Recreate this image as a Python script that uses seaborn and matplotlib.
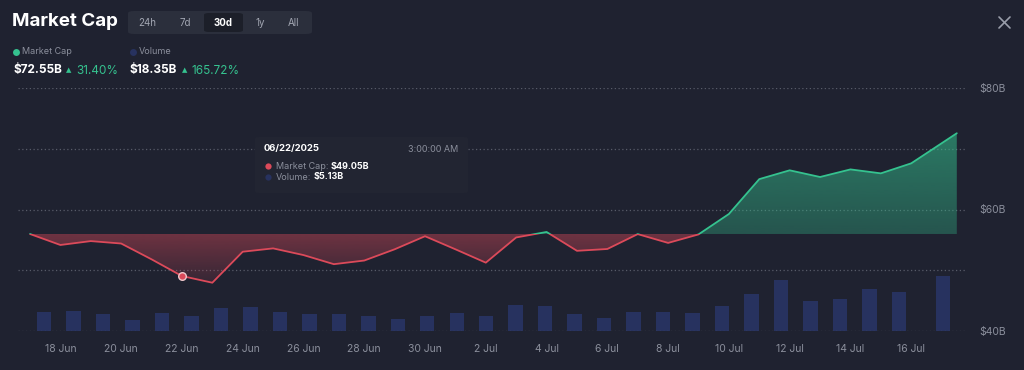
import matplotlib
matplotlib.use("Agg")
import matplotlib.pyplot as plt
import matplotlib.dates as mdates
import numpy as np
import pandas as pd
import seaborn as sns
from matplotlib.patches import FancyBboxPatch, Rectangle
from matplotlib.path import Path
from matplotlib.lines import Line2D

# data (billions USD)
daily_dates = pd.date_range("2025-06-17", "2025-07-16", freq="D")
dates = list(daily_dates) + [pd.Timestamp("2025-07-17 12:00")]
market_cap = [55.97, 54.16, 54.8, 54.4, 51.8, 49.05, 47.95, 53.05, 53.6, 52.5,
              51.0, 51.6, 53.45, 55.6, 53.45, 51.25, 55.4, 56.3, 53.2, 53.5,
              55.95, 54.5, 55.9, 59.26, 65.0, 66.45, 65.35, 66.6, 65.95, 67.6,
              72.55]
volume = [6.4, 6.8, 5.6, 3.8, 5.9, 5.13, 7.7, 8.1, 6.3, 5.7, 5.7, 5.0, 4.0, 5.0,
          6.0, 5.0, 8.7, 8.3, 5.7, 4.2, 6.4, 6.3, 6.1, 8.4, 12.3, 17.0, 9.9,
          10.6, 14.0, 13.0, 18.35]
tick_dates = pd.date_range("2025-06-18", "2025-07-16", freq="2D")
y_ticks = [40, 50, 60, 70, 80]
y_labels = ["$40B", "", "$60B", "", "$80B"]
periods = ["24h", "7d", "30d", "1y", "All"]
hover_idx = 5

BG = "#1f2230"
GREEN = "#35c28f"
RED = "#dc4a5a"
VOL = "#27325f"
GRID = "#575b68"
MUTED = "#8b8f9c"

sns.set_theme(style="dark", rc={"axes.facecolor": BG, "figure.facecolor": BG})
plt.rcParams["font.family"] = ["Inter", "DejaVu Sans"]

fig = plt.figure(figsize=(10.24, 3.7), dpi=100)


def fx(px):
    return px / 1024


def fy(py):
    return 1 - py / 370


def dot(px, py, color, size=5):
    fig.lines.append(Line2D([fx(px)], [fy(py)], marker="o", ms=size, color=color,
                            mec="none", transform=fig.transFigure, zorder=6))


rect = [fx(18), fy(331), fx(965) - fx(18), fy(88) - fy(331)]
t = mdates.date2num(dates)
t0 = t[0]
mc = np.array(market_cap)
base = market_cap[0]

# volume bars on their own inset axis
bax = fig.add_axes(rect)
sns.barplot(x=t, y=volume, native_scale=True, width=0.49, color=VOL,
            saturation=1, edgecolor="none", linewidth=0, ax=bax, zorder=1)
bax.set_xlim(t0 - 0.882, t0 + 31.24)
bax.set_ylim(0, 81)
bax.axis("off")

ax = fig.add_axes(rect)
ax.set_facecolor("none")
ax.set_xlim(t0 - 0.395, t0 + 30.77)
ax.set_ylim(40, 80)

# dotted grid
for v in y_ticks:
    ax.axhline(v, color=GRID, lw=0.9, ls=(0, (1, 2)), zorder=1)


def gradient_fill(mask, color, a_top, a_bot, lo, hi):
    coll = ax.fill_between(t, mc, base, where=mask, interpolate=True,
                           color="none", lw=0)
    path = Path.make_compound_path(*coll.get_paths())
    rgba = np.zeros((256, 1, 4))
    rgba[..., :3] = matplotlib.colors.to_rgb(color)
    rgba[..., 3] = np.linspace(a_bot, a_top, 256).reshape(-1, 1)
    im = ax.imshow(rgba, extent=[t[0], t[-1], lo, hi], origin="lower",
                   aspect="auto", zorder=2)
    im.set_clip_path(path, transform=ax.transData)


gradient_fill(mc >= base, GREEN, 0.55, 0.32, base, mc.max())
gradient_fill(mc <= base, RED, 0.42, 0.12, mc.min(), base)

# line, coloured above/below start value
for col, y0, y1 in [(GREEN, base, 100), (RED, 0, base)]:
    sns.lineplot(x=t, y=market_cap, color=col, lw=1.3, ax=ax, zorder=4)
    clip = Rectangle((t0 - 5, y0), 50, y1 - y0, transform=ax.transData)
    ax.lines[-1].set_clip_path(clip)

# hover marker
ax.scatter([t[hover_idx]], [market_cap[hover_idx]], s=30, color=RED,
           edgecolor="#f0c9cd", linewidth=1.0, zorder=6)

ax.set_xticks(mdates.date2num(tick_dates))
ax.set_xticklabels([d.strftime("%-d %b") for d in tick_dates])
ax.set_yticks(y_ticks)
ax.set_yticklabels(y_labels)
ax.yaxis.tick_right()
ax.tick_params(axis="x", length=0, pad=9, labelsize=7.5, labelcolor=MUTED)
ax.tick_params(axis="y", length=0, pad=10, labelsize=7.5, labelcolor=MUTED)
ax.set_xlabel("")
ax.set_ylabel("")
for s in ax.spines.values():
    s.set_visible(False)
ax.grid(False)

# header
fig.text(fx(12), fy(22), "Market Cap", color="white", fontsize=13.5,
         fontweight="bold", va="center", ha="left")
fig.patches.append(FancyBboxPatch((fx(128), fy(34)), fx(184), fy(11) - fy(34),
                                  boxstyle="round,pad=0,rounding_size=0.006",
                                  transform=fig.transFigure, fc="#2b2f3c",
                                  ec="none"))
fig.patches.append(FancyBboxPatch((fx(204), fy(32)), fx(39), fy(13) - fy(32),
                                  boxstyle="round,pad=0,rounding_size=0.005",
                                  transform=fig.transFigure, fc="#1c1f29",
                                  ec="none"))
for label, px in zip(periods, [147, 185, 223, 260, 294]):
    sel = label == "30d"
    fig.text(fx(px), fy(22.5), label, color="white" if sel else "#a2a6b2",
             fontsize=7, fontweight="bold" if sel else "normal",
             ha="center", va="center")

fig.lines.append(Line2D([fx(999), fx(1010)], [fy(17), fy(28)], color="#9a9eaa",
                        lw=1.2, transform=fig.transFigure))
fig.lines.append(Line2D([fx(999), fx(1010)], [fy(28), fy(17)], color="#9a9eaa",
                        lw=1.2, transform=fig.transFigure))

# legend / summary
dot(16, 51.5, GREEN)
fig.text(fx(22), fy(51.5), "Market Cap", color=MUTED, fontsize=6.5, va="center")
dot(133, 51.5, VOL)
fig.text(fx(139), fy(51.5), "Volume", color=MUTED, fontsize=6.5, va="center")
fig.text(fx(14), fy(70.5), "$72.55B", color="white", fontsize=8.5,
         fontweight="bold", va="center")
fig.text(fx(66), fy(70), "▲", color=GREEN, fontsize=5, va="center",
         family=["DejaVu Sans"])
fig.text(fx(76), fy(70.5), "31.40%", color=GREEN, fontsize=8.5, va="center")
fig.text(fx(130), fy(70.5), "$18.35B", color="white", fontsize=8.5,
         fontweight="bold", va="center")
fig.text(fx(182), fy(70), "▲", color=GREEN, fontsize=5, va="center",
         family=["DejaVu Sans"])
fig.text(fx(191), fy(70.5), "165.72%", color=GREEN, fontsize=8.5, va="center")

# tooltip
fig.patches.append(FancyBboxPatch((fx(255), fy(193)), fx(213), fy(137) - fy(193),
                                  boxstyle="round,pad=0,rounding_size=0.004",
                                  transform=fig.transFigure, fc="#222532",
                                  ec="none", zorder=5))
fig.text(fx(264), fy(149), "06/22/2025", color="white", fontsize=6.8,
         fontweight="bold", va="center", zorder=6)
fig.text(fx(458), fy(149), "3:00:00 AM", color=MUTED, fontsize=6.5,
         ha="right", va="center", zorder=6)
dot(268, 166, RED, 4.5)
fig.text(fx(276), fy(166), "Market Cap:", color=MUTED, fontsize=6.5,
         va="center", zorder=6)
fig.text(fx(331), fy(166), "$49.05B", color="white", fontsize=6.5,
         fontweight="bold", va="center", zorder=6)
dot(268, 177, VOL, 4.5)
fig.text(fx(276), fy(177), "Volume:", color=MUTED, fontsize=6.5,
         va="center", zorder=6)
fig.text(fx(314), fy(177), "$5.13B", color="white", fontsize=6.5,
         fontweight="bold", va="center", zorder=6)

fig.savefig("out.png", dpi=100, facecolor=BG)
